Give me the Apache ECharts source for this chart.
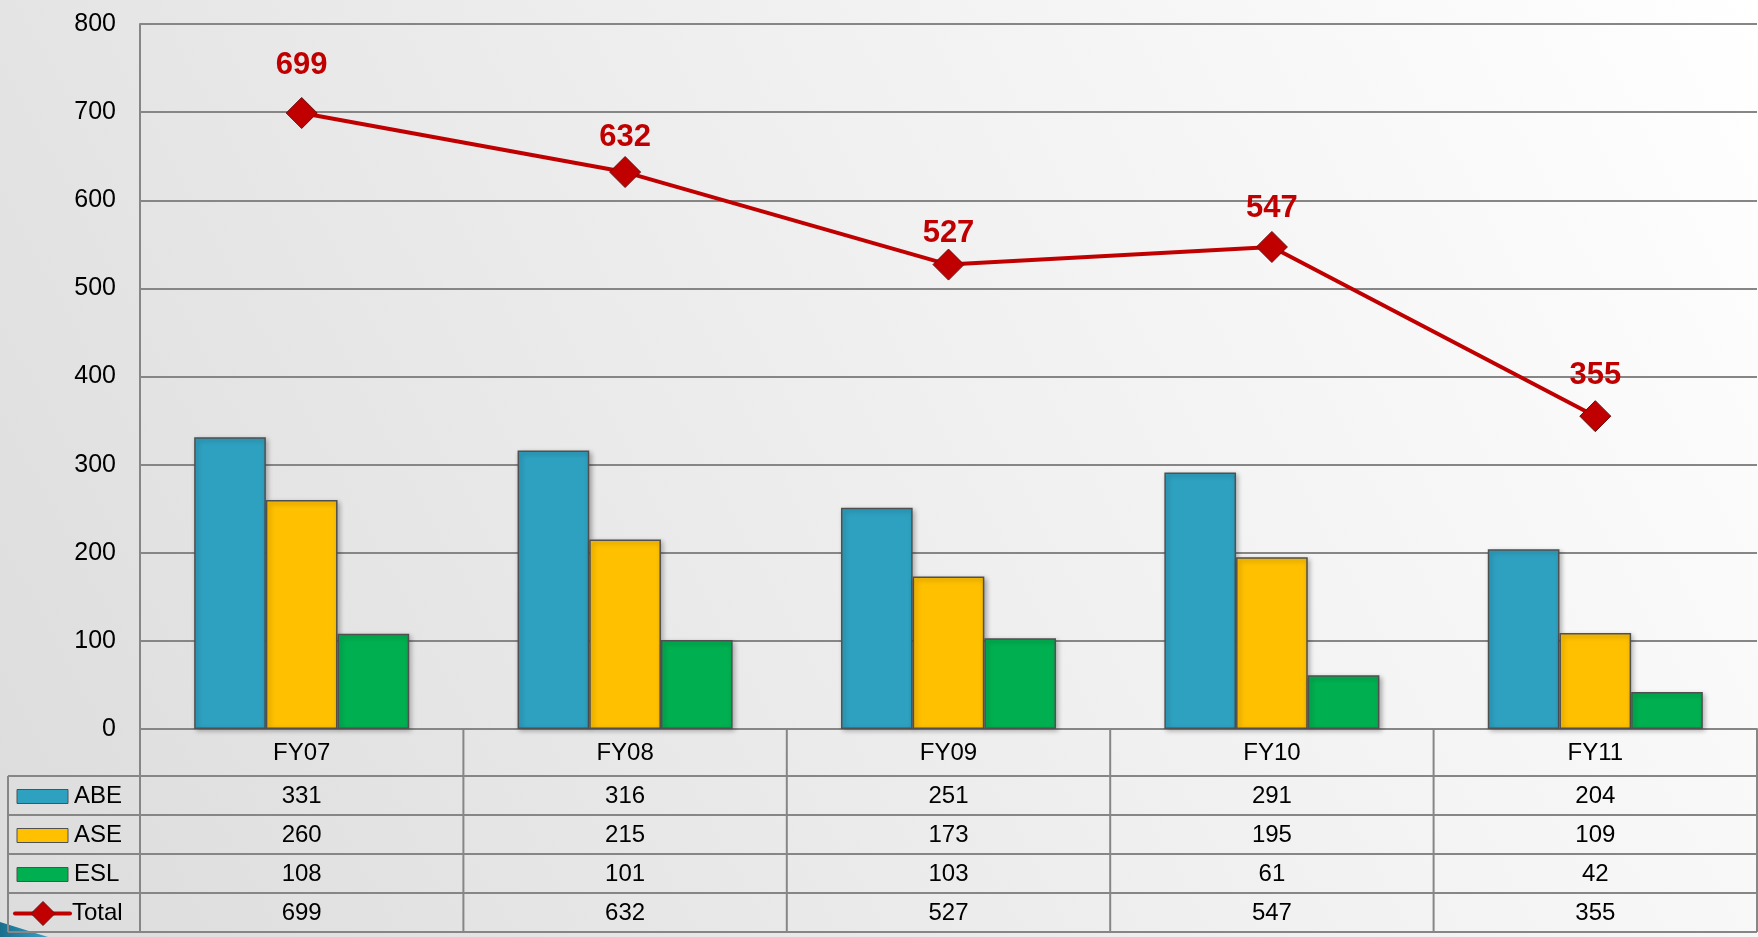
<!DOCTYPE html>
<html>
<head>
<meta charset="utf-8">
<script src="https://cdn.jsdelivr.net/npm/echarts@6/dist/echarts.min.js"></script>
<style>
html,body{margin:0;padding:0;}
#chart{width:1758px;height:937px;}
</style>
</head>
<body>
<div id="chart"></div>
<script>
var categories = ['FY07', 'FY08', 'FY09', 'FY10', 'FY11'];
var abe = [331, 316, 251, 291, 204];
var ase = [260, 215, 173, 195, 109];
var esl = [108, 101, 103, 61, 42];
var total = [699, 632, 527, 547, 355];
var seriesNames = ['ABE', 'ASE', 'ESL', 'Total'];
var yTicks = {min: 0, max: 800, interval: 100};

// label vertical nudges (style only, in px)
var totalLabelNudge = [-1, 12, 15, 8, 6];

var colors = {ABE: '#2ea1c1', ASE: '#ffc000', ESL: '#00b050', Total: '#c00000'};
var FONT = '"Liberation Sans", Arial, sans-serif';
var GRID_COLOR = '#868686';

var chart = echarts.init(document.getElementById('chart'), null, {renderer: 'canvas'});

function barSeries(name, data) {
  return {
    name: name, type: 'bar', data: data,
    barGap: '0%', barCategoryGap: '33.5%',
    itemStyle: {
      color: colors[name], borderColor: '#505050', borderWidth: 1.5,
      shadowBlur: 5, shadowColor: 'rgba(0,0,0,0.3)', shadowOffsetX: 2, shadowOffsetY: 2
    },
    z: 2
  };
}

var totalData = total.map(function (v, i) {
  return {value: v, label: {offset: [0, totalLabelNudge[i]]}};
});

var option = {
  animation: false,
  backgroundColor: {
    type: 'linear', x: 0, y: 1, x2: 1, y2: 0,
    colorStops: [{offset: 0, color: '#dcdcdc'}, {offset: 0.55, color: '#f0f0f0'}, {offset: 1, color: '#ffffff'}]
  },
  grid: {left: 140, right: 1, top: 24, bottom: 208, containLabel: false},
  xAxis: {
    type: 'category', data: categories,
    axisLine: {show: true, lineStyle: {color: GRID_COLOR, width: 2}},
    axisTick: {show: false}, axisLabel: {show: false}
  },
  yAxis: {
    type: 'value', min: yTicks.min, max: yTicks.max, interval: yTicks.interval,
    axisLine: {show: true, lineStyle: {color: GRID_COLOR, width: 2}},
    axisTick: {show: false},
    axisLabel: {fontSize: 25, color: '#000', margin: 24, fontFamily: FONT},
    splitLine: {lineStyle: {color: GRID_COLOR, width: 2}}
  },
  series: [
    barSeries('ABE', abe),
    barSeries('ASE', ase),
    barSeries('ESL', esl),
    {
      name: 'Total', type: 'line', data: totalData,
      lineStyle: {color: colors.Total, width: 4},
      symbol: 'diamond', symbolSize: [31, 31],
      itemStyle: {color: colors.Total, borderColor: '#6a1010', borderWidth: 1},
      label: {show: true, position: 'top', distance: 15, color: colors.Total,
        fontSize: 31, fontWeight: 'bold', fontFamily: FONT},
      z: 5
    }
  ]
};
chart.setOption(option);

function buildTable() {
  var g = [];
  var x0 = chart.convertToPixel({xAxisIndex: 0}, categories[0]);
  var x1 = chart.convertToPixel({xAxisIndex: 0}, categories[1]);
  var band = x1 - x0;
  var yBase = chart.convertToPixel({yAxisIndex: 0}, 0);
  var leftEdge = 8;
  var gridLeft = x0 - band / 2;
  var gridRight = chart.convertToPixel({xAxisIndex: 0}, categories[categories.length - 1]) + band / 2;
  var catRowH = 47, rowH = 39;
  var rowsTop = yBase + catRowH;
  var lineStyle = {stroke: GRID_COLOR, lineWidth: 2};

  for (var r = 0; r <= seriesNames.length; r++) {
    var yy = rowsTop + r * rowH;
    g.push({type: 'line', shape: {x1: leftEdge, y1: yy, x2: gridRight, y2: yy}, style: lineStyle, z: 10});
  }
  g.push({type: 'line', shape: {x1: leftEdge, y1: rowsTop, x2: leftEdge, y2: rowsTop + seriesNames.length * rowH}, style: lineStyle, z: 10});
  g.push({type: 'line', shape: {x1: gridLeft, y1: yBase, x2: gridLeft, y2: rowsTop + seriesNames.length * rowH}, style: lineStyle, z: 10});
  for (var c = 0; c < categories.length; c++) {
    var xr = gridLeft + (c + 1) * band;
    g.push({type: 'line', shape: {x1: xr, y1: yBase, x2: xr, y2: rowsTop + seriesNames.length * rowH}, style: lineStyle, z: 10});
  }
  categories.forEach(function (cat) {
    var cx = chart.convertToPixel({xAxisIndex: 0}, cat);
    g.push({type: 'text', x: cx, y: yBase + catRowH / 2 + 1,
      style: {text: cat, fill: '#000', font: '24px ' + FONT, textAlign: 'center', textVerticalAlign: 'middle'}, z: 11});
  });
  var dataRows = [abe, ase, esl, total];
  dataRows.forEach(function (row, ri) {
    var cy = rowsTop + ri * rowH + rowH / 2 + 1;
    row.forEach(function (v, ci) {
      var cx = chart.convertToPixel({xAxisIndex: 0}, categories[ci]);
      g.push({type: 'text', x: cx, y: cy,
        style: {text: String(v), fill: '#000', font: '24px ' + FONT, textAlign: 'center', textVerticalAlign: 'middle'}, z: 11});
    });
    var name = seriesNames[ri];
    if (name === 'Total') {
      g.push({type: 'line', shape: {x1: 15, y1: cy, x2: 70, y2: cy}, style: {stroke: colors.Total, lineWidth: 4, lineCap: 'round'}, z: 11});
      g.push({type: 'polygon', shape: {points: [[43, cy - 12], [55, cy], [43, cy + 12], [31, cy]]},
        style: {fill: colors.Total, stroke: '#6a1010', lineWidth: 1}, z: 12});
    } else {
      g.push({type: 'rect', shape: {x: 17, y: cy - 7, width: 51, height: 14},
        style: {fill: colors[name], stroke: '#505050', lineWidth: 1}, z: 11});
    }
    g.push({type: 'text', x: name === 'Total' ? 72 : 74, y: cy,
      style: {text: name, fill: '#000', font: '24px ' + FONT, textAlign: 'left', textVerticalAlign: 'middle'}, z: 11});
  });
  g.push({type: 'polygon', shape: {points: [[0, 922], [0, 937], [48, 937]]},
    style: {fill: {type: 'linear', x: 0, y: 0, x2: 1, y2: 0, colorStops: [{offset: 0, color: '#1a6e8c'}, {offset: 1, color: '#3aa0c4'}]}}, z: 9});
  chart.setOption({graphic: {elements: g}});
}
buildTable();
</script>
</body>
</html>
